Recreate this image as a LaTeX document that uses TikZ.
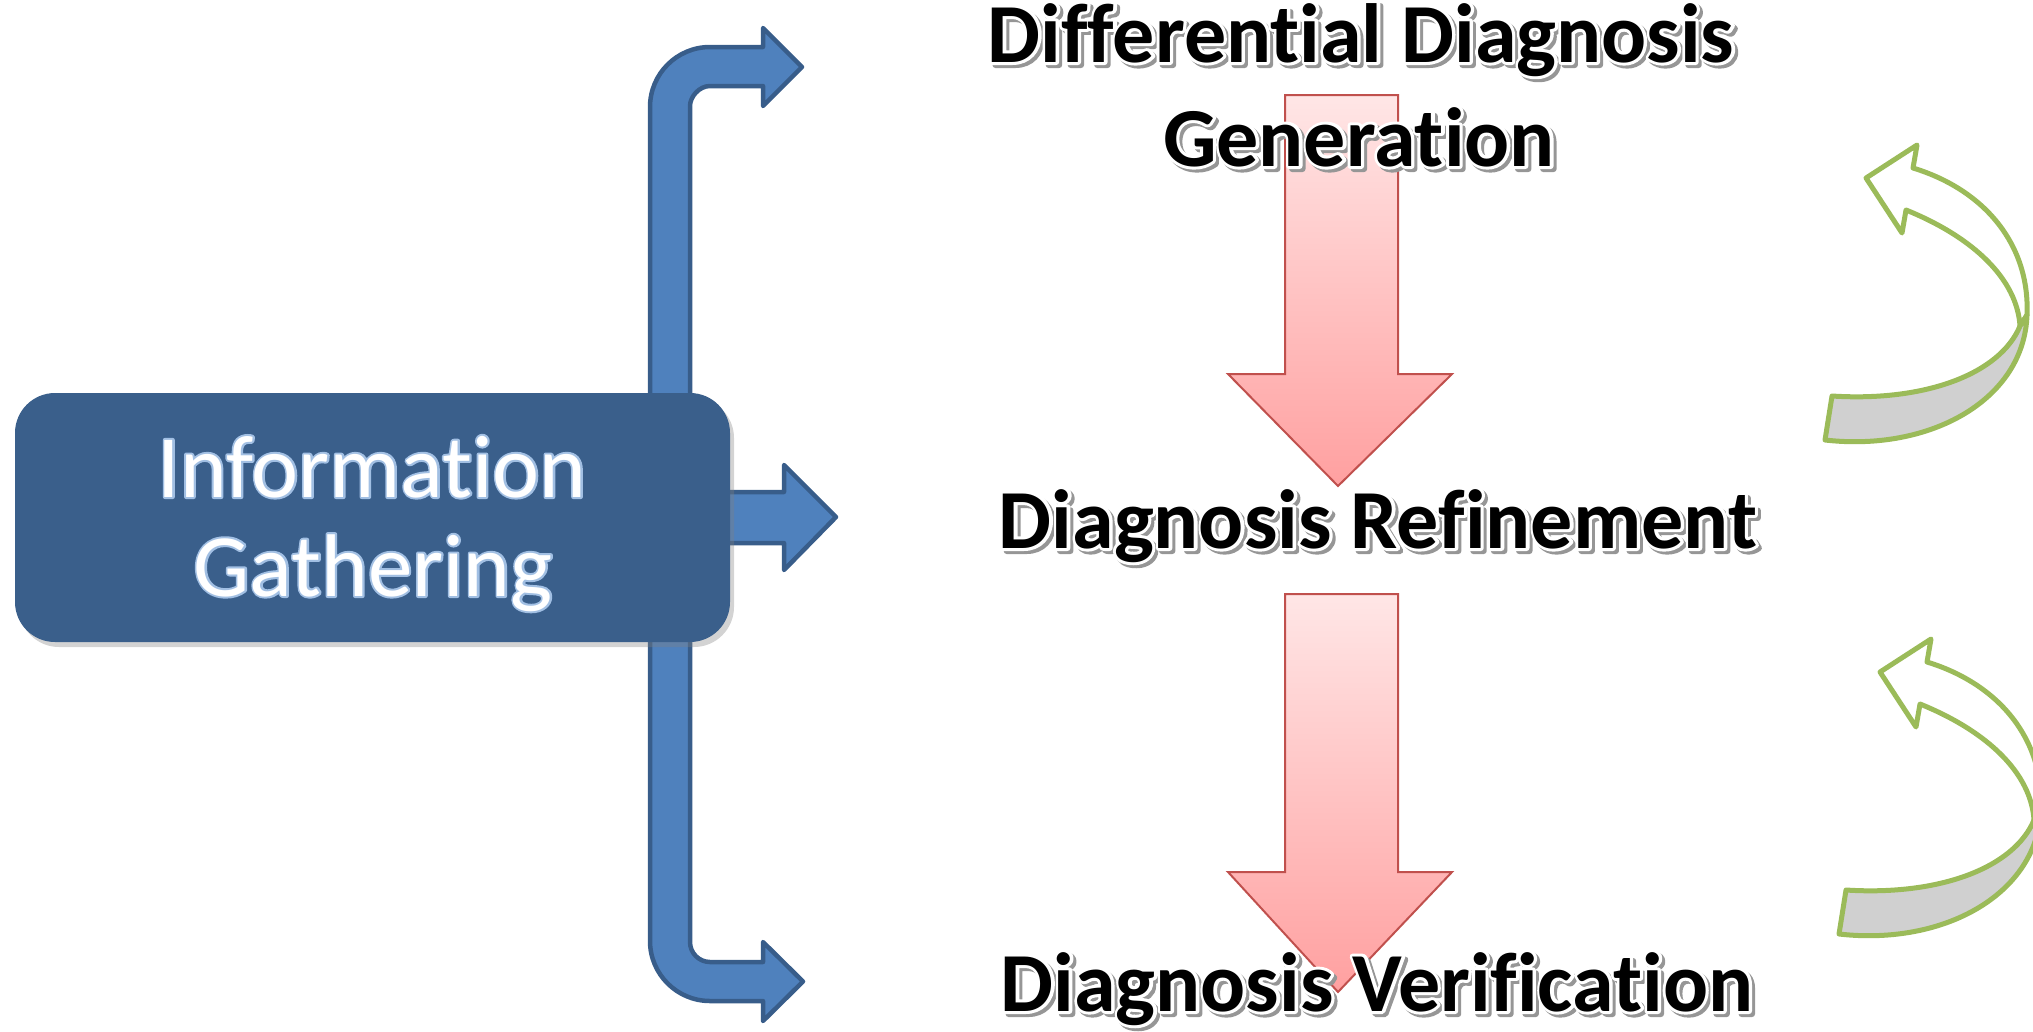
\documentclass[tikz,border=0pt]{standalone}
\usepackage{fontspec}
\setmainfont{Carlito}[Ligatures={CommonOff,ContextualOff}]
\usetikzlibrary{shadows}
\definecolor{blueA}{RGB}{79,129,189}
\definecolor{blueB}{RGB}{56,93,138}
\definecolor{boxc}{RGB}{58,95,139}
\definecolor{redb}{RGB}{192,80,77}
\definecolor{redtop}{RGB}{255,230,230}
\definecolor{redbot}{RGB}{255,160,160}
\definecolor{greenc}{RGB}{155,187,89}
\definecolor{grayc}{RGB}{208,208,208}
\definecolor{glowc}{RGB}{160,192,228}
\definecolor{shadc}{RGB}{150,150,150}
\newcommand\rtfont{\bfseries\fontsize{84}{90}\selectfont}
\newcommand\igfont{\fontsize{89}{96}\selectfont}
% text drawn with fill and a stroke of given colour and width
\newcommand\strk[3]{\special{pdf:literal direct 2 Tr #2 w 1 j #1 RG}#3\special{pdf:literal direct 0 Tr}}
\tikzset{
  bluearrow/.style={fill=blueA, draw=blueB, line width=4.5pt, line join=round},
  redarrow/.style={top color=redtop, bottom color=redbot, draw=redb, line width=2pt},
  greenline/.style={draw=greenc, line width=5pt, line join=round},
  ttl/.style={anchor=base, font=\rtfont, inner sep=0pt},
  igtxt/.style={anchor=base, font=\igfont, text=white, inner sep=0pt},
}
\begin{document}
\begin{tikzpicture}[x=1pt,y=-1pt]
\useasboundingbox (0,0) rectangle (2033,1031);
\clip (0,0) rectangle (2033,1031);
% blue bracket arrow
\path[bluearrow] (650,941) -- (650,107) .. controls (650,73.9) and (676.9,47) .. (710,47)
  -- (763,47) -- (763,28) -- (802,67) -- (763,106) -- (763,86) -- (710,86)
  .. controls (699,86) and (690,97) .. (690,106) -- (690,942)
  .. controls (690,953) and (699,962) .. (710,962) -- (763,962) -- (763,942)
  -- (803,981.5) -- (763,1021) -- (763,1001) -- (710,1001)
  .. controls (676.9,1001) and (650,974.1) .. (650,941) -- cycle;
\path[bluearrow] (720,492) -- (784,492) -- (784,465) -- (836,517) -- (784,570) -- (784,543) -- (720,543) -- cycle;
% box
\node[fill=boxc, rounded corners=40pt, minimum width=715pt, minimum height=249pt, inner sep=0pt,
  drop shadow={shadow xshift=4pt, shadow yshift=-5pt, opacity=0.35}] (box) at (372.5,517.5) {};
\node[igtxt, text=glowc] (ig1g) at (372,497) {\strk{0.63 0.75 0.89}{4}{Information}};
\node[igtxt, text=glowc] (ig2g) at (373,596) {\strk{0.63 0.75 0.89}{4}{Gathering}};
\node[igtxt] (ig1) at (372,497) {Information};
\node[igtxt] (ig2) at (373,596) {Gathering};
% red arrows
\path[redarrow] (1285,95) -- (1398,95) -- (1398,374) -- (1452,374) -- (1338,486) -- (1228,374) -- (1285,374) -- cycle;
\path[redarrow] (1285,594) -- (1398,594) -- (1398,872) -- (1452,872) -- (1338,992) -- (1228,872) -- (1285,872) -- cycle;
% titles: shadow, white outline, black text
\begin{scope}[shift={(3,3)}]
\node[ttl, text=shadc] (dd1s) at (1361,62) {\strk{0.59 0.59 0.59}{6}{Differential Diagnosis}};
\node[ttl, text=shadc] (dd2s) at (1359,166) {\strk{0.59 0.59 0.59}{6}{Generation}};
\node[ttl, text=shadc] (drs) at (1378,548) {\strk{0.59 0.59 0.59}{6}{Diagnosis Refinement}};
\node[ttl, text=shadc] (dvs) at (1377,1011) {\strk{0.59 0.59 0.59}{6}{Diagnosis Verification}};
\end{scope}
\node[ttl, text=white] (dd1w) at (1361,62) {\strk{1 1 1}{6}{Differential Diagnosis}};
\node[ttl, text=white] (dd2w) at (1359,166) {\strk{1 1 1}{6}{Generation}};
\node[ttl, text=white] (drw) at (1378,548) {\strk{1 1 1}{6}{Diagnosis Refinement}};
\node[ttl, text=white] (dvw) at (1377,1011) {\strk{1 1 1}{6}{Diagnosis Verification}};
\node[ttl] (dd1) at (1361,62) {Differential Diagnosis};
\node[ttl] (dd2) at (1359,166) {Generation};
\node[ttl] (dr) at (1378,548) {Diagnosis Refinement};
\node[ttl] (dv) at (1377,1011) {Diagnosis Verification};
% green curved arrows
\foreach \dx/\dy in {0/0, 14/494}{
\begin{scope}[shift={(\dx,\dy)}]
\path[greenline, fill=white] (1906,210) .. controls (1975,238) and (2017,280) .. (2020,326)
  -- (2027,315) .. controls (2030,245) and (1985,190) .. (1913,168)
  -- (1917,145) -- (1866,178) -- (1902,233) -- cycle;
\path[greenline, fill=grayc] (1825,440) -- (1832,396) .. controls (1925,402) and (2000,374) .. (2020,326)
  -- (2027,315) .. controls (2024,400) and (1930,452) .. (1825,440) -- cycle;
\end{scope}}
\end{tikzpicture}
\end{document}
